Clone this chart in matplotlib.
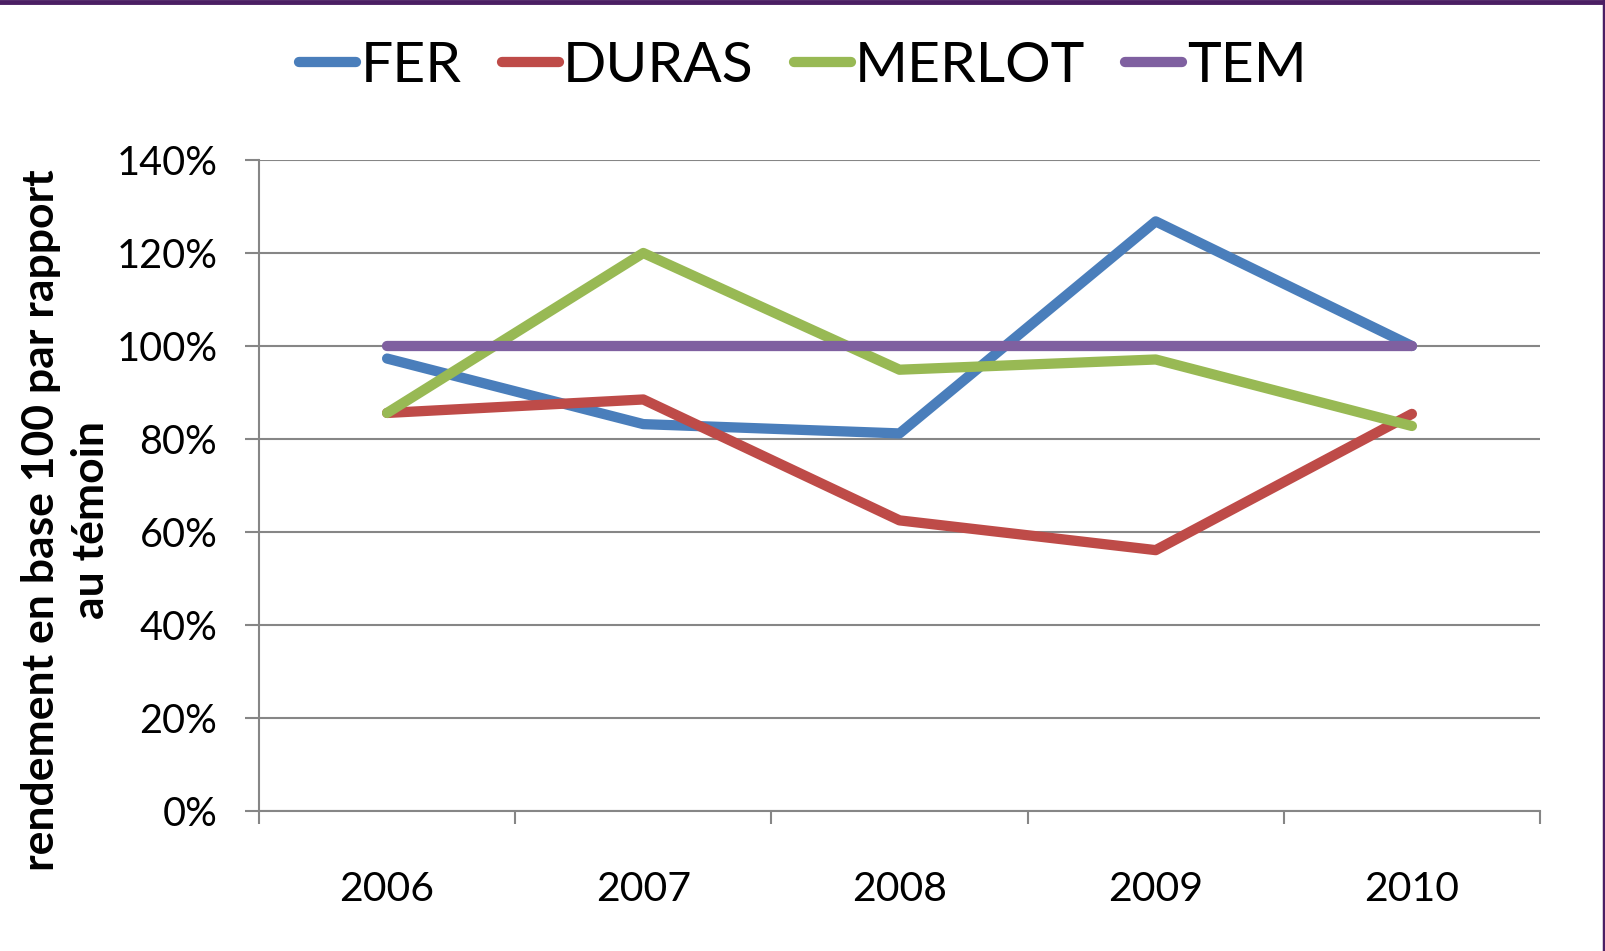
import matplotlib
matplotlib.use("Agg")
import matplotlib.pyplot as plt
from matplotlib.lines import Line2D
from matplotlib.ticker import FixedLocator, FuncFormatter

years = ["2006", "2007", "2008", "2009", "2010"]
fer = [97.3, 83.2, 81.2, 126.8, 100.0]
duras = [85.6, 88.5, 62.5, 56.1, 85.4]
merlot = [85.6, 120.0, 94.9, 97.1, 82.8]
tem = [100, 100, 100, 100, 100]
series_names = ["FER", "DURAS", "MERLOT", "TEM"]
colors = ["#4A7EBB", "#BE4B48", "#98B954", "#7F60A0"]
yticks = [0, 20, 40, 60, 80, 100, 120, 140]

W, H = 1606, 951
fig = plt.figure(figsize=(W / 100, H / 100), dpi=100)
fig.patch.set_facecolor("white")

L, R, T, B = 259, 1540, 160, 811
ax = fig.add_axes([L / W, 1 - B / H, (R - L) / W, (B - T) / H])

x = list(range(len(years)))
lines = []
for name, vals, c in zip(series_names, [fer, duras, merlot, tem], colors):
    ln, = ax.plot(x, vals, color=c, lw=7.4, solid_capstyle="round",
                  solid_joinstyle="round", label=name, zorder=3)
    lines.append(ln)

ax.set_xlim(-0.5, len(years) - 0.5)
ax.set_ylim(0, 140)
grid_c = "#868686"
ax.yaxis.set_major_locator(FixedLocator(yticks))
ax.yaxis.set_major_formatter(FuncFormatter(lambda v, p: f"{int(v)}%"))
ax.grid(axis="y", color=grid_c, lw=1.5, zorder=1)
for s in ["top", "right"]:
    ax.spines[s].set_visible(False)
for s in ["left", "bottom"]:
    ax.spines[s].set_color(grid_c)
    ax.spines[s].set_linewidth(1.5)

ax.xaxis.set_major_locator(FixedLocator([i - 0.5 for i in range(len(years) + 1)]))
ax.xaxis.set_major_formatter(FuncFormatter(lambda v, p: ""))
ax.xaxis.set_minor_locator(FixedLocator(x))
ax.set_xticklabels(years, minor=True)
ax.tick_params(axis="x", which="major", length=9, width=1.5, color=grid_c)
ax.tick_params(axis="x", which="minor", length=0, pad=43, labelsize=29.5)
ax.tick_params(axis="y", length=10, width=1.5, color=grid_c, pad=20, labelsize=28.5)
for lab in ax.get_xticklabels(minor=True) + ax.get_yticklabels():
    lab.set_family(["Lato", "DejaVu Sans"])

fig.text(66 / W, 1 - 520 / H, "rendement en base 100 par rapport\nau témoin",
         rotation=90, ha="center", va="center", fontsize=32, fontweight="bold",
         family=["Lato", "DejaVu Sans"], linespacing=1.3)

leg = fig.legend(handles=lines, labels=series_names, loc="center",
                 bbox_to_anchor=(803 / W, 1 - 66 / H), ncol=4, frameon=False,
                 handlelength=1.0, handletextpad=0.08, columnspacing=0.7,
                 prop={"family": ["Lato", "DejaVu Sans"], "size": 41})

border = "#4B1E63"
fig.add_artist(Line2D([0, 1], [1 - 2 / H, 1 - 2 / H], transform=fig.transFigure,
                      color=border, lw=3.5))
fig.add_artist(Line2D([1 - 2 / W, 1 - 2 / W], [0, 1], transform=fig.transFigure,
                      color=border, lw=2.5))

fig.savefig("out.png", dpi=100, facecolor="white")
